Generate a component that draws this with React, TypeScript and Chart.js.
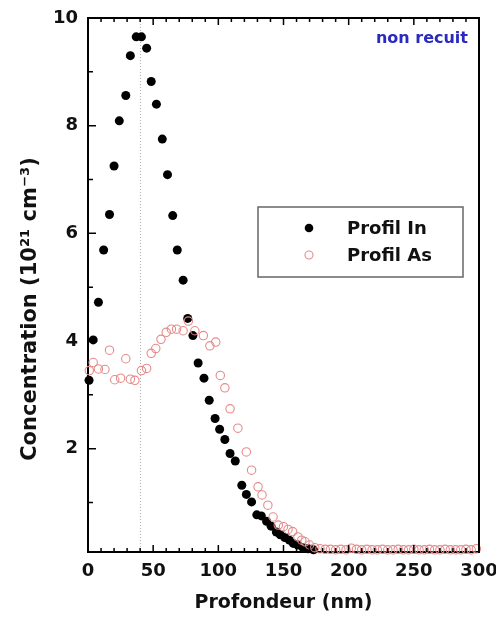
import React, { useEffect, useRef } from "react";
import { Chart, registerables } from "chart.js";

Chart.register(...registerables);

// ---- data (depth in nm, concentration in 1e21 cm^-3) ----
const inDepth = [0.8, 4, 8, 12, 16.5, 20, 24, 29, 32.5, 37, 41, 45, 48.5, 52.5, 57, 61, 65, 68.5, 73, 76.5, 80.5, 84.5, 89, 93, 97.5, 101, 105, 109, 113, 118, 121.5, 125.5, 129.5, 133, 137, 140.5, 144.5, 147.5, 151, 154.5, 157.5, 161, 165, 169, 173];
const inConc = [3.27, 4.02, 4.72, 5.69, 6.35, 7.25, 8.09, 8.56, 9.3, 9.65, 9.65, 9.44, 8.82, 8.4, 7.75, 7.09, 6.33, 5.69, 5.13, 4.42, 4.1, 3.59, 3.31, 2.9, 2.56, 2.36, 2.17, 1.91, 1.77, 1.32, 1.15, 1.01, 0.77, 0.75, 0.65, 0.56, 0.45, 0.4, 0.35, 0.3, 0.24, 0.21, 0.16, 0.14, 0.12];

const asDepth = [1, 4, 8, 13, 16.5, 20.5, 25, 29, 32.5, 36, 41, 45, 48.5, 52, 56, 60, 64, 68, 73, 77, 82, 88.5, 93.5, 98, 101.5, 105, 109, 115, 121.5, 125.5, 130.5, 133.5, 138, 142, 146, 150, 153.5, 157, 161, 164, 166.5, 170, 174,
  178, 182, 186, 190, 194, 198, 202, 206, 210, 214, 218, 222, 226, 230, 234, 238, 242, 246, 250, 254, 258, 262, 266, 270, 274, 278, 282, 286, 290, 294, 298];
const asConc = [3.45, 3.6, 3.48, 3.47, 3.83, 3.28, 3.31, 3.67, 3.29, 3.27, 3.45, 3.49, 3.77, 3.86, 4.03, 4.16, 4.22, 4.22, 4.19, 4.37, 4.19, 4.1, 3.91, 3.98, 3.36, 3.13, 2.74, 2.38, 1.94, 1.6, 1.29, 1.14, 0.95, 0.73, 0.58, 0.55, 0.5, 0.46, 0.36, 0.3, 0.27, 0.21, 0.16,
  0.14, 0.13, 0.13, 0.12, 0.13, 0.12, 0.15, 0.13, 0.12, 0.13, 0.12, 0.12, 0.13, 0.12, 0.12, 0.13, 0.12, 0.12, 0.13, 0.12, 0.12, 0.13, 0.12, 0.12, 0.13, 0.12, 0.12, 0.12, 0.13, 0.12, 0.14];

const xTickValues = [0, 50, 100, 150, 200, 250, 300];
const yTickValues = [2, 4, 6, 8, 10];
const xMinorStep = 10;
const yMinorStep = 1;
const markerDepth = 40;

const seriesLabels = ["Profil In", "Profil As"];
const noteText = "non recuit";
const xTitle = "Profondeur (nm)";
const yTitle = "Concentration (10\u00B2\u00B9 cm\u207B\u00B3)";

const FONT = '"DejaVu Sans", "Liberation Sans", sans-serif';
const AS_COLOR = "#e68a8a";

const decorPlugin = {
  id: "decor",
  beforeDatasetsDraw(chart: any) {
    const { ctx, chartArea: a, scales } = chart;
    const px = scales.x.getPixelForValue(markerDepth);
    ctx.save();
    ctx.strokeStyle = "#b0b0b0";
    ctx.lineWidth = 1;
    ctx.setLineDash([1, 2]);
    ctx.beginPath();
    ctx.moveTo(Math.round(px) + 0.5, a.top);
    ctx.lineTo(Math.round(px) + 0.5, a.bottom);
    ctx.stroke();
    ctx.restore();
  },
  afterDraw(chart: any) {
    const { ctx, chartArea: a, scales } = chart;
    const xs = scales.x;
    const ys = scales.y;
    ctx.save();
    // top and right frame
    ctx.strokeStyle = "#000";
    ctx.lineWidth = 2;
    ctx.beginPath();
    ctx.moveTo(a.left - 1, a.top);
    ctx.lineTo(a.right, a.top);
    ctx.lineTo(a.right, a.bottom + 1);
    ctx.stroke();

    // inward ticks
    ctx.lineWidth = 1.5;
    ctx.beginPath();
    for (let v = xs.min; v <= xs.max; v += xMinorStep) {
      const p = xs.getPixelForValue(v);
      const len = xTickValues.includes(v) ? 7 : 4;
      ctx.moveTo(p, a.bottom);
      ctx.lineTo(p, a.bottom - len);
      ctx.moveTo(p, a.top);
      ctx.lineTo(p, a.top + len);
    }
    for (let v = yMinorStep; v < ys.max; v += yMinorStep) {
      if (v < ys.min) continue;
      const p = ys.getPixelForValue(v);
      const len = yTickValues.includes(v) ? 8 : 5;
      ctx.moveTo(a.left, p);
      ctx.lineTo(a.left + len, p);
    }
    ctx.stroke();

    // legend box
    const lx = 258, ly = 207, lw = 205, lh = 70;
    ctx.strokeStyle = "#666";
    ctx.lineWidth = 1.5;
    ctx.strokeRect(lx, ly, lw, lh);
    ctx.fillStyle = "#000";
    ctx.beginPath();
    ctx.arc(309, 228, 4.3, 0, Math.PI * 2);
    ctx.fill();
    ctx.strokeStyle = AS_COLOR;
    ctx.lineWidth = 1.1;
    ctx.beginPath();
    ctx.arc(309, 255, 4, 0, Math.PI * 2);
    ctx.stroke();
    ctx.fillStyle = "#111";
    ctx.font = `bold 18px ${FONT}`;
    ctx.textAlign = "left";
    ctx.textBaseline = "middle";
    ctx.fillText(seriesLabels[0], 347, 229);
    ctx.fillText(seriesLabels[1], 347, 256);

    // note
    ctx.fillStyle = "#2a2ac0";
    ctx.font = `bold 16px ${FONT}`;
    ctx.textAlign = "right";
    ctx.textBaseline = "alphabetic";
    ctx.fillText(noteText, 468, 43);

    // y title
    ctx.save();
    ctx.translate(31, 309);
    ctx.rotate(-Math.PI / 2);
    ctx.fillStyle = "#111";
    ctx.font = `bold 21px ${FONT}`;
    ctx.textAlign = "center";
    ctx.textBaseline = "middle";
    ctx.fillText(yTitle, 0, 0);
    ctx.restore();

    ctx.restore();
  },
};

export default function App() {
  const ref = useRef<HTMLCanvasElement>(null);

  useEffect(() => {
    const canvas = ref.current!;
    const chart = new Chart(canvas, {
      type: "scatter",
      data: {
        datasets: [
          {
            label: seriesLabels[1],
            data: asDepth.map((x, i) => ({ x, y: asConc[i] })),
            pointStyle: "circle",
            pointRadius: 4.2,
            pointBackgroundColor: "rgba(0,0,0,0)",
            pointBorderColor: AS_COLOR,
            pointBorderWidth: 1.1,
            clip: false,
          } as any,
          {
            label: seriesLabels[0],
            data: inDepth.map((x, i) => ({ x, y: inConc[i] })),
            pointStyle: "circle",
            pointRadius: 4.5,
            pointBackgroundColor: "#000",
            pointBorderColor: "#000",
            pointBorderWidth: 0,
            clip: false,
          } as any,
        ],
      },
      options: {
        responsive: false,
        animation: false,
        devicePixelRatio: 1,
        layout: { padding: { left: 0, top: 18, right: 17, bottom: 0 } },
        plugins: {
          legend: { display: false },
          tooltip: { enabled: false },
        },
        scales: {
          x: {
            type: "linear",
            position: "bottom",
            min: 0,
            max: 300,
            grid: { display: false, drawTicks: false },
            border: { display: true, color: "#000", width: 2 },
            ticks: {
              padding: 9,
              color: "#111",
              font: { family: FONT, size: 18, weight: "bold" },
              maxRotation: 0,
              callback: (v: any) => String(v),
            },
            title: {
              display: true,
              text: xTitle,
              color: "#111",
              font: { family: FONT, size: 19, weight: "bold" },
              padding: { top: 0, bottom: 7 },
            },
            afterBuildTicks: (s: any) => {
              s.ticks = xTickValues.map((value) => ({ value }));
            },
            afterFit: (s: any) => {
              s.height = 69;
              s.paddingLeft = 0;
              s.paddingRight = 0;
            },
          },
          y: {
            type: "linear",
            position: "left",
            min: 0.08,
            max: 10,
            grid: { display: false, drawTicks: false },
            border: { display: true, color: "#000", width: 2 },
            ticks: {
              padding: 10,
              color: "#111",
              font: { family: FONT, size: 18, weight: "bold" },
              callback: (v: any) => String(v),
            },
            afterBuildTicks: (s: any) => {
              s.ticks = yTickValues.map((value) => ({ value }));
            },
            afterFit: (s: any) => {
              s.width = 88;
              s.paddingTop = 0;
              s.paddingBottom = 0;
            },
          },
        },
      } as any,
      plugins: [decorPlugin],
    });
    return () => chart.destroy();
  }, []);

  return (
    <div style={{ position: "fixed", left: 0, top: 0, width: 496, height: 621, background: "#fff" }}>
      <canvas ref={ref} width={496} height={621} style={{ display: "block" }} />
    </div>
  );
}
